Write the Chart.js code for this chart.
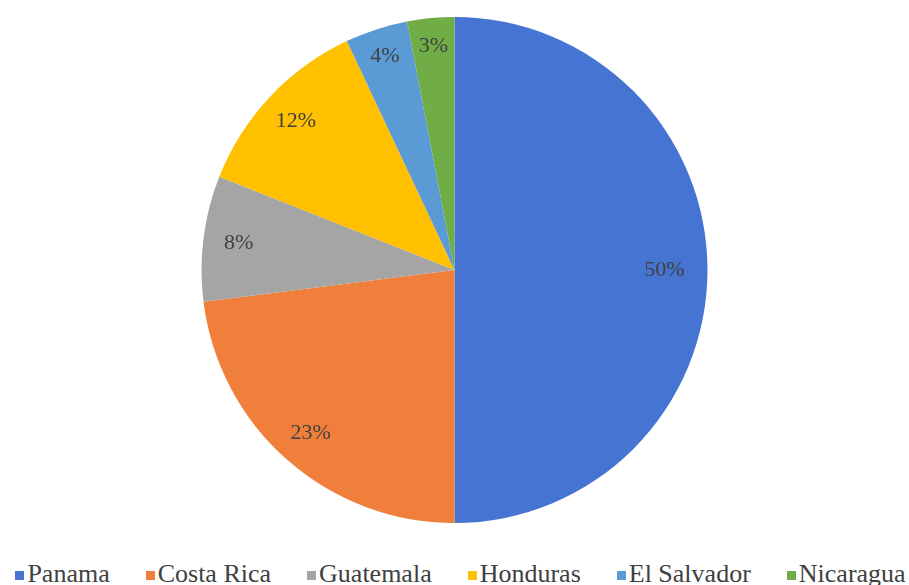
<!DOCTYPE html>
<html>
<head>
<meta charset="utf-8">
<script src="https://cdn.jsdelivr.net/npm/chart.js@4/dist/chart.umd.min.js"></script>
<style>
  html, body { margin: 0; padding: 0; background: #fff; overflow: hidden; }
  #wrap { position: relative; width: 909px; height: 585px; }
  #pie { position: absolute; left: 0; top: 0; }
  #legend {
    position: absolute; left: 6px; top: 559px; width: 909px;
    display: flex; justify-content: center; gap: 36px;
    font-family: 'Times New Roman', 'Liberation Serif', Times, 'DejaVu Serif', serif; font-size: 26px; line-height: 30px;
    color: #404040; white-space: nowrap;
  }
  #legend .box { display: inline-block; width: 9px; height: 9px; margin: 0 3px 2px 0; vertical-align: baseline; }
</style>
</head>
<body>
<div id="wrap">
  <canvas id="pie" width="909" height="540"></canvas>
  <div id="legend"></div>
</div>
<script>
const countries = ['Panama', 'Costa Rica', 'Guatemala', 'Honduras', 'El Salvador', 'Nicaragua']
const shares = [50, 23, 8, 12, 4, 3]
const colors = ['#4674d2', '#ef7f3a', '#a5a5a5', '#ffc000', '#5b9bd5', '#70ad47']

// legend under the pie
document.getElementById('legend').innerHTML = countries
  .map((c, i) => `<span><span class="box" style="background:${colors[i]}"></span>${c}</span>`)
  .join('')

// percent labels inside each slice
const sliceLabels = {
  id: 'sliceLabels',
  afterDatasetsDraw(chart) {
    const { ctx } = chart
    ctx.save()
    ctx.font = '22px "Times New Roman", "Liberation Serif", Times, serif'
    ctx.fillStyle = '#404040'
    ctx.textAlign = 'center'
    ctx.textBaseline = 'middle'
    chart.getDatasetMeta(0).data.forEach((arc, i) => {
      const { x, y, startAngle, endAngle, outerRadius } = arc.getProps(['x', 'y', 'startAngle', 'endAngle', 'outerRadius'], true)
      const mid = (startAngle + endAngle) / 2
      const span = endAngle - startAngle
      // narrow slices get their label pushed a little further out
      const k = span > 2 ? 0.83 : span > 0.4 ? 0.86 : 0.89
      const r = outerRadius * k
      ctx.fillText(shares[i] + '%', x + Math.cos(mid) * r, y + Math.sin(mid) * r)
    })
    ctx.restore()
  },
}

new Chart(document.getElementById('pie'), {
  type: 'pie',
  data: {
    labels: countries,
    datasets: [
      {
        data: shares,
        backgroundColor: colors,
        borderWidth: 0,
      },
    ],
  },
  options: {
    responsive: false,
    animation: false,
    layout: { padding: { top: 17, bottom: 17 } },
    plugins: {
      legend: { display: false },
      tooltip: { enabled: false },
    },
  },
  plugins: [sliceLabels],
})
</script>
</body>
</html>
